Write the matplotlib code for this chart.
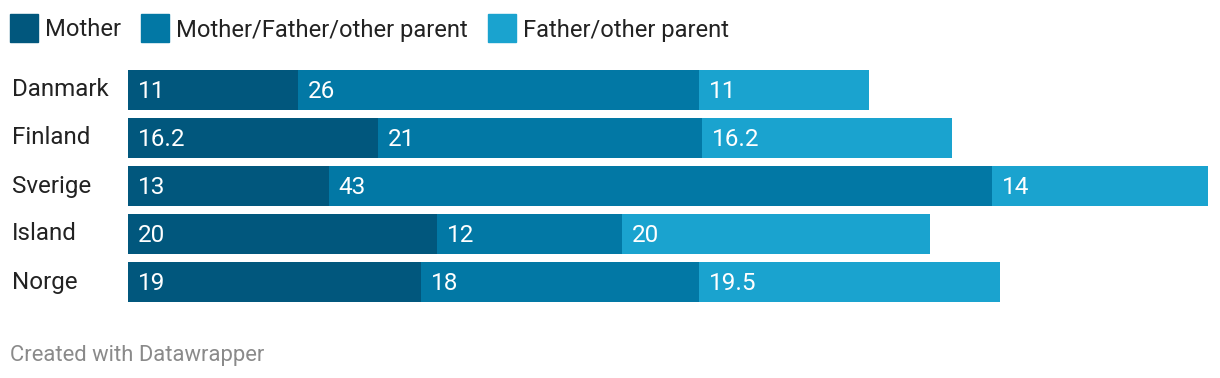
import matplotlib
matplotlib.use("Agg")
import matplotlib.pyplot as plt
from matplotlib.patches import Rectangle
import numpy as np

countries = ["Danmark", "Finland", "Sverige", "Island", "Norge"]
series_names = ["Mother", "Mother/Father/other parent", "Father/other parent"]
mother = [11, 16.2, 13, 20, 19]
shared = [26, 21, 43, 12, 18]
father = [11, 16.2, 14, 20, 19.5]
colors = ["#01577d", "#0278a5", "#1aa3cf"]

W, H = 1220, 378
plt.rcParams['font.family'] = ['Roboto', 'DejaVu Sans']
fig = plt.figure(figsize=(W / 100, H / 100), dpi=100)

def fx(px):
    return px / W

def fy(py):
    return 1 - py / H

ax_left, ax_right = 128, 1208
ax_top, ax_bot = 66, 306
ax = fig.add_axes([fx(ax_left), fy(ax_bot), fx(ax_right - ax_left), (ax_bot - ax_top) / H])
ax.set_xlim(0, 70)
ax.set_ylim(len(countries) - 0.5, -0.5)
ax.axis("off")

y = np.arange(len(countries))
left = np.zeros(len(countries))
px_per_unit = (ax_right - ax_left) / 70
for vals, col in zip([mother, shared, father], colors):
    vals = np.array(vals, dtype=float)
    ax.barh(y, vals, left=left, height=40 / 48, color=col, linewidth=0)
    for yi, l, v in zip(y, left, vals):
        ax.text(l + 10 / px_per_unit, yi + 2 / 48, f"{v:g}", color="white",
                fontsize=17.5, va="center", ha="left")
    left = left + vals

for yi, c in zip(y, countries):
    fig.text(fx(12), fy(ax_top + 24 + 48 * yi), c, fontsize=17.4,
             color="#222222", va="center", ha="left")

# legend
fig.canvas.draw()
renderer = fig.canvas.get_renderer()
x = 10
for name, col in zip(series_names, colors):
    fig.patches.append(Rectangle((fx(x), fy(42)), fx(28), 28 / H, color=col,
                                 transform=fig.transFigure, figure=fig))
    t = fig.text(fx(x + 35), fy(30), name, fontsize=17.1, color="#222222",
                 va="center", ha="left")
    bb = t.get_window_extent(renderer)
    x = x + 35 + bb.width + 20

fig.text(fx(10), fy(356), "Created with Datawrapper", fontsize=15.8,
         color="#8a8a8a", va="center", ha="left")

fig.savefig("out.png", dpi=100, facecolor="white")
